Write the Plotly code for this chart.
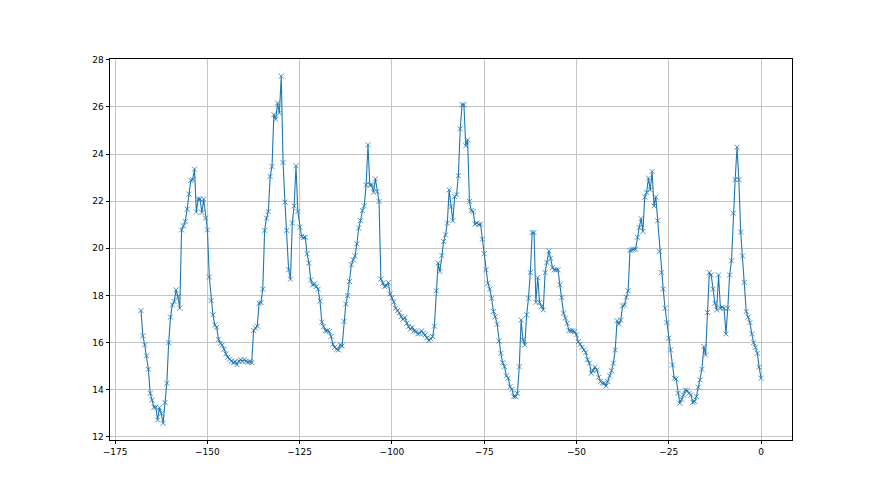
import plotly.graph_objects as go

# Values (half-unit steps from -168 to 0)
seg_a = [17.36, 16.29, 15.9, 15.44, 14.87, 13.85, 13.57, 13.26, 13.26, 12.72, 13.24, 13.0, 12.58,
         13.46, 14.28, 16.0, 17.08, 17.6, 17.74, 18.24, 17.95, 17.46, 20.78]
seg_b = [20.95, 21.14, 21.66, 22.3, 22.88, 22.91, 23.36, 21.54, 22.09, 22.09, 21.52, 22.09, 21.28,
         20.78, 18.78]
seg_c = [17.78, 17.18, 16.75, 16.65, 16.14, 15.97, 15.9, 15.72, 15.52, 15.38, 15.3, 15.21, 15.15,
         15.18, 15.07, 15.22, 15.27, 15.21, 15.27, 15.21, 15.17, 15.2, 15.15]
seg_d = [16.51, 16.62, 16.7, 17.67, 17.7, 18.27, 20.76, 21.28, 21.56, 23.05, 23.47, 25.67, 25.48,
         26.16, 25.74, 27.3, 23.64, 21.96, 20.76, 19.09, 18.69, 21.07, 21.8, 23.5, 21.56, 20.9,
         20.5, 20.45, 20.47, 19.77]
seg_e = [19.37, 18.66, 18.45, 18.49, 18.38, 18.27, 17.76, 16.87, 16.68, 16.5, 16.51, 16.47, 16.26,
         15.93, 15.8, 15.72, 15.69, 15.9, 15.86, 16.9, 17.64, 18.0, 18.59, 19.3, 19.51, 19.68,
         20.19, 20.86, 21.18, 21.6, 21.8, 22.69, 24.39, 22.69, 22.69, 22.38, 22.95, 22.41, 21.99,
         18.7, 18.52, 18.38, 18.41, 18.55]
seg_f = [18.07, 17.9, 17.72, 17.46, 17.36, 17.27, 17.1, 16.99, 17.06, 16.82, 16.68, 16.57, 16.65,
         16.5, 16.47, 16.37, 16.4, 16.5, 16.4, 16.33, 16.21, 16.09, 16.16, 16.26, 16.7, 18.2,
         19.37, 19.02, 19.7, 20.29, 20.57, 21.07, 22.48, 21.77, 21.17, 22.2, 22.27, 23.08, 25.07,
         26.09, 26.09, 24.35, 24.6, 21.99, 21.6, 21.56]
seg_g = [21.03, 21.07, 21.0, 21.03, 20.39, 19.77, 19.09, 18.52, 18.27, 17.88, 17.32, 17.1, 16.78,
         16.07, 15.55, 15.15, 14.98, 14.59, 14.49, 14.13, 14.02, 13.71, 13.71, 13.85, 14.98,
         16.96, 16.12, 15.9, 17.18, 17.88, 18.97, 20.67, 20.67, 17.71, 18.76, 17.71, 17.53,
         17.39, 18.97, 19.4, 19.89, 19.58, 19.18, 19.09, 19.09, 19.09, 18.45]
seg_h = [17.91, 17.25, 17.04, 16.82, 16.51, 16.5, 16.5, 16.47, 16.33, 16.04, 15.93, 15.8, 15.69,
         15.58, 15.27, 15.13, 14.7, 14.81, 14.96, 14.84, 14.53, 14.35, 14.28, 14.28, 14.16,
         14.35, 14.59, 14.81, 15.13, 15.69, 16.93, 16.79, 16.96, 17.56, 17.6, 17.93, 18.2]
seg_i = [19.91, 19.94, 19.96, 19.96, 20.47, 20.88, 21.26, 20.72, 22.17, 22.37, 22.98, 22.48, 23.26,
         21.8, 22.17, 21.17, 19.86, 18.97, 18.27, 17.46, 16.85, 16.19, 15.69, 15.05, 14.49, 14.46,
         13.85, 13.43, 13.6, 13.78, 13.99, 13.96, 13.85, 13.78, 13.47, 13.5, 13.71, 14.11, 14.42,
         14.87, 15.83, 15.48, 17.28, 18.97, 18.87, 18.27, 17.67, 17.39, 18.87, 17.46, 17.5, 17.46,
         16.37, 17.46, 18.87, 19.47, 21.49, 22.91, 24.29, 22.91, 20.69, 19.68, 18.56, 17.32,
         17.08, 16.85, 16.37, 16.0, 15.8, 15.55, 14.96, 14.49]

values = seg_a + seg_b + seg_c + seg_d + seg_e + seg_f + seg_g + seg_h + seg_i
x_start, x_end = -168.0, 0.0
n = len(values)
x = [x_start + (x_end - x_start) * k / (n - 1) for k in range(n)]

x_ticks = [-175, -150, -125, -100, -75, -50, -25, 0]
y_ticks = [12, 14, 16, 18, 20, 22, 24, 26, 28]

color = "#1f77b4"
fig = go.Figure()
fig.add_trace(go.Scatter(
    x=x, y=values, mode="lines+markers",
    line=dict(color=color, width=1.1),
    marker=dict(symbol="x-thin", size=5, line=dict(color=color, width=0.8), color=color),
    showlegend=False, hoverinfo="x+y",
))

axis_common = dict(
    showgrid=True, gridcolor="#c4c4c4", gridwidth=0.8,
    showline=True, linecolor="black", linewidth=0.8, mirror=True,
    ticks="outside", ticklen=3.5, tickwidth=0.8, tickcolor="black",
    zeroline=False,
    tickfont=dict(family="DejaVu Sans", size=9, color="black"),
)

fig.update_layout(
    width=880, height=495, autosize=False,
    margin=dict(l=102, r=96, t=51, b=63, pad=0),
    paper_bgcolor="white", plot_bgcolor="white",
    xaxis=dict(range=[-176.4, 8.4], tickvals=x_ticks, **axis_common),
    yaxis=dict(range=[11.87, 28.03], tickvals=y_ticks, **axis_common),
)

fig.write_html("out.html", config={"displayModeBar": False})
